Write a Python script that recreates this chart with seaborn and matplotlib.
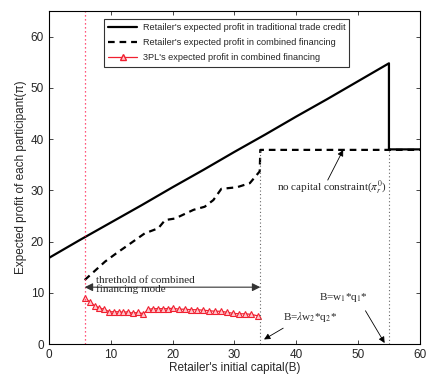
import numpy as np
import matplotlib.pyplot as plt
import pandas as pd
import seaborn as sns
from matplotlib.lines import Line2D

# traditional trade credit (retailer)
trad_x = [0, 5, 10, 15, 20, 25, 30, 35, 40, 45, 50, 55, 55, 60]
trad_y = [16.8, 20.3, 23.7, 27.1, 30.6, 34.0, 37.5, 40.9, 44.4, 47.8, 51.3, 54.8, 38.0, 38.0]

# combined financing (retailer)
comb_x = [5.8, 9.1, 10.9, 12.8, 15.5, 17.7, 18.8, 20.4, 23.4, 25.2, 26.6, 27.9, 30.4, 32.5, 34.1, 34.2, 60]
comb_y = [12.5, 16.1, 17.7, 19.3, 21.6, 22.6, 24.2, 24.5, 26.2, 26.8, 28.1, 30.3, 30.6, 31.4, 33.7, 37.9, 37.9]

# combined financing (3PL)
tpl_x = [5.8, 6.6, 7.4, 8.1, 8.9, 9.8, 10.5, 11.3, 12.0, 12.8, 13.6, 14.4, 15.3, 16.1, 16.9,
         17.7, 18.5, 19.3, 20.1, 21.0, 22.0, 23.0, 24.0, 25.0, 25.9, 26.9, 27.8, 28.8, 29.8,
         30.7, 31.7, 32.7, 33.8]
tpl_y = [8.9, 8.3, 7.5, 7.1, 6.8, 6.3, 6.3, 6.3, 6.2, 6.3, 6.0, 6.2, 5.9, 6.8, 6.9,
         6.9, 6.9, 6.9, 7.0, 6.8, 6.8, 6.7, 6.7, 6.6, 6.5, 6.4, 6.4, 6.2, 6.0,
         5.9, 5.9, 5.8, 5.5]

labels = ["Retailer's expected profit in traditional trade credit",
          "Retailer's expected profit in combined financing",
          "3PL's expected profit in combined financing"]

B_low = 5.8
B_mid = 34.2
B_high = 55.0

sns.set_style('ticks')
plt.rcParams['font.family'] = ['Liberation Sans', 'DejaVu Sans']
plt.rcParams['mathtext.fontset'] = 'stix'
plt.rcParams['xtick.direction'] = 'in'
plt.rcParams['ytick.direction'] = 'in'

fig, ax = plt.subplots(figsize=(4.36, 3.81), dpi=100)
fig.subplots_adjust(left=0.112, right=0.963, bottom=0.097, top=0.971)

df_trad = pd.DataFrame({'B': trad_x, 'profit': trad_y})
df_comb = pd.DataFrame({'B': comb_x, 'profit': comb_y})
df_tpl = pd.DataFrame({'B': tpl_x, 'profit': tpl_y})

sns.lineplot(data=df_trad, x='B', y='profit', ax=ax, color='black', lw=1.6,
             estimator=None, sort=False)
sns.lineplot(data=df_comb, x='B', y='profit', ax=ax, color='black', lw=1.6,
             estimator=None, sort=False, linestyle=(0, (3, 2.2)))
sns.lineplot(data=df_tpl, x='B', y='profit', ax=ax, color='#f02030', lw=0.9,
             estimator=None, sort=False, marker='^', markersize=4.8,
             markerfacecolor='#ffc8ce', markeredgecolor='#f02030', markeredgewidth=0.8)

# reference lines
ax.plot([B_low, B_low], [0, 65], color='#ff2050', lw=0.9, ls=(0, (1, 2.2)))
ax.plot([B_mid, B_mid], [0, 37.9], color='#666666', lw=0.8, ls=(0, (1, 2.2)))
ax.plot([B_high, B_high], [0, 38.0], color='#666666', lw=0.8, ls=(0, (1, 2.2)))

serif = 'Liberation Serif'

# annotations
ax.annotate('', xy=(B_low, 11.1), xytext=(B_mid, 11.1),
            arrowprops=dict(arrowstyle='<|-|>', color='#333333', lw=0.8,
                            mutation_scale=12, shrinkA=0, shrinkB=0))
ax.text(7.6, 11.5, 'threthold of combined\nfinancing mode', fontfamily=serif,
        fontsize=8, va='center', ha='left', linespacing=1.0)
ax.text(36.9, 30.5, r'no capital constraint($\pi_r^0$)', fontsize=8,
        va='center', ha='left', fontfamily=serif)
ax.annotate('', xy=(47.6, 37.9), xytext=(45.1, 32.0),
            arrowprops=dict(arrowstyle='-|>', color='black', lw=0.6,
                            mutation_scale=9, shrinkA=0, shrinkB=0))
ax.text(43.7, 9.0, r'B=w$_1$*q$_1$*', fontsize=8, va='center', ha='left',
        fontfamily=serif)
ax.annotate('', xy=(54.3, 0.2), xytext=(51.2, 6.5),
            arrowprops=dict(arrowstyle='-|>', color='black', lw=0.6,
                            mutation_scale=9, shrinkA=0, shrinkB=0))
ax.text(37.9, 5.3, r'B=$\lambda$w$_2$*q$_2$*', fontsize=8, va='center', ha='left',
        fontfamily=serif)
ax.annotate('', xy=(34.8, 0.9), xytext=(37.9, 3.1),
            arrowprops=dict(arrowstyle='-|>', color='black', lw=0.6,
                            mutation_scale=9, shrinkA=0, shrinkB=0))

ax.set_xlim(0, 60)
ax.set_ylim(0, 65)
ax.set_xticks(range(0, 61, 10))
ax.set_yticks(range(0, 61, 10))
ax.tick_params(top=True, right=True, labelsize=8.5, length=3, width=0.6)
for sp in ax.spines.values():
    sp.set_linewidth(0.8)
    sp.set_color('black')
ax.set_xlabel("Retailer's initial capital(B)", fontsize=8.5, labelpad=1)
ax.set_ylabel('Expected profit of each participant(\u03c0)', fontsize=8.5, labelpad=3)

handles = [Line2D([], [], color='black', lw=1.6),
           Line2D([], [], color='black', lw=1.6, ls=(0, (3, 2.2))),
           Line2D([], [], color='#f02030', lw=0.9, marker='^', markersize=4.8,
                  markerfacecolor='#ffc8ce', markeredgecolor='#f02030')]
leg = ax.legend(handles, labels, loc='upper left', bbox_to_anchor=(0.148, 0.975),
                fontsize=6.6, frameon=True, fancybox=False, edgecolor='black',
                borderpad=0.45, handlelength=3.2, labelspacing=0.65, handletextpad=0.6,
                borderaxespad=0)
leg.get_frame().set_linewidth(0.8)

plt.savefig('out.png', dpi=100)
